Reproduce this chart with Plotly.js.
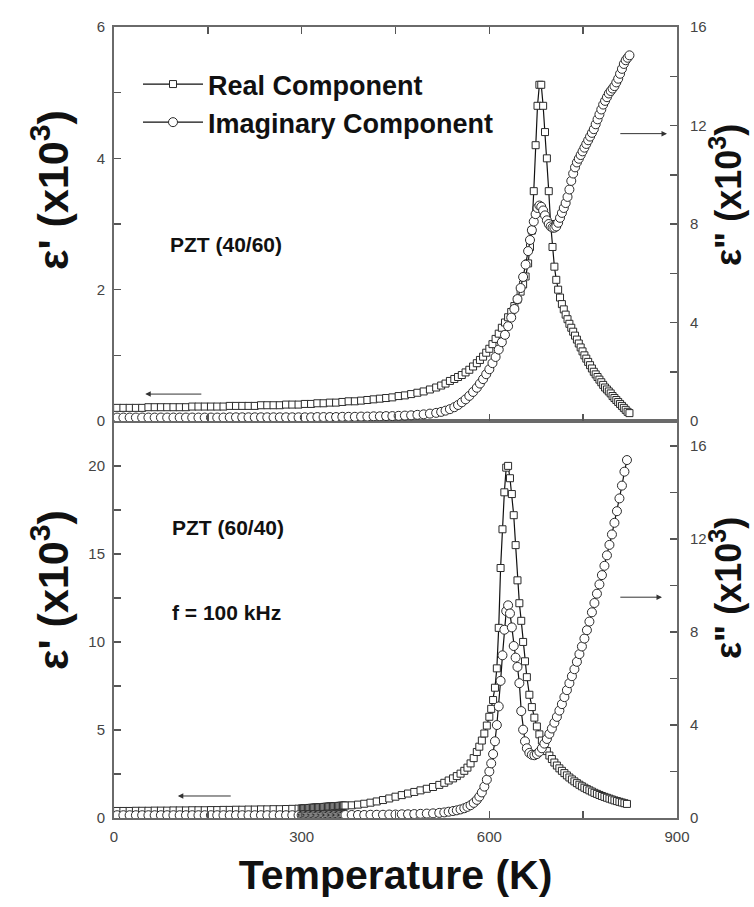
<!DOCTYPE html>
<html><head><meta charset="utf-8">
<script src="https://cdn.plot.ly/plotly-3.0.1.min.js"></script>
<style>html,body{margin:0;padding:0;background:#fff}#c{width:754px;height:907px}</style>
</head><body><div id="c"></div>
<script>
// ---------- DATA ----------
// Top panel: PZT (40/60)
const tempTop = [
 5,15,25,35,45,55,65,75,85,95,
 105,115,125,135,145,155,165,175,185,195,
 205,215,225,235,245,255,265,275,285,295,
 305,315,325,335,345,355,365,375,385,395,
 405,415,425,435,445,455,465,475,485,495,505,515,
 523,530,537,544,550,556,562,568,574,580,
 585,590,595,600,605,610,615,620,625,630,
 635,640,645,650,654,658,662,665,668,671,
 674,677,680,683,686,689,692,695,698,701,
 704,707,710,713,716,719,722,725,728,731,
 734,737,740,743,746,749,752,755,758,761,
 764,767,770,773,776,779,782,785,788,791,
 794,797,800,803,806,809,812,815,818,821,
 824];
const realTop = [
 0.20,0.20,0.20,0.20,0.20,0.21,0.21,0.21,0.21,0.21,
 0.21,0.21,0.22,0.22,0.22,0.22,0.22,0.22,0.23,0.23,
 0.23,0.23,0.23,0.24,0.24,0.24,0.24,0.25,0.25,0.25,
 0.26,0.26,0.27,0.27,0.28,0.28,0.29,0.30,0.30,0.31,
 0.32,0.33,0.34,0.35,0.36,0.38,0.39,0.41,0.43,0.45,0.48,0.51,
 0.54,0.57,0.61,0.64,0.67,0.70,0.74,0.78,0.83,0.88,
 0.93,0.98,1.04,1.10,1.17,1.25,1.33,1.42,1.50,1.58,
 1.66,1.75,1.85,1.97,2.08,2.20,2.40,2.65,2.90,3.50,
 4.20,4.80,5.12,5.12,4.80,4.40,4.00,3.50,3.00,2.65,
 2.35,2.15,2.00,1.88,1.78,1.70,1.62,1.55,1.48,1.42,
 1.36,1.30,1.24,1.18,1.12,1.06,1.00,0.95,0.90,0.85,
 0.80,0.75,0.71,0.67,0.63,0.59,0.55,0.51,0.48,0.45,
 0.42,0.38,0.35,0.32,0.29,0.26,0.23,0.20,0.17,0.14,
 0.12];
const imagTop = [
 0.14,0.14,0.14,0.14,0.14,0.14,0.14,0.14,0.14,0.14,
 0.14,0.14,0.14,0.14,0.14,0.14,0.14,0.14,0.15,0.15,
 0.15,0.15,0.15,0.15,0.15,0.15,0.15,0.15,0.15,0.15,
 0.15,0.15,0.16,0.16,0.16,0.16,0.17,0.17,0.17,0.18,
 0.18,0.19,0.19,0.20,0.20,0.21,0.22,0.23,0.25,0.27,0.30,0.33,
 0.37,0.42,0.48,0.56,0.65,0.76,0.88,1.02,1.18,1.35,
 1.52,1.70,1.90,2.10,2.35,2.60,2.90,3.20,3.50,3.85,
 4.20,4.55,4.95,5.40,5.85,6.35,6.90,7.35,7.75,8.10,
 8.40,8.65,8.75,8.70,8.55,8.35,8.15,8.00,7.90,7.85,
 7.85,7.90,8.05,8.25,8.45,8.65,8.85,9.10,9.40,9.75,
 10.05,10.30,10.50,10.65,10.80,10.95,11.10,11.25,11.40,11.55,
 11.70,11.85,12.05,12.25,12.45,12.65,12.85,13.00,13.15,13.30,
 13.40,13.50,13.60,13.75,13.90,14.10,14.30,14.50,14.65,14.75,
 14.85];

// Bottom panel: PZT (60/40)
const tempBot = [
 5,15,25,35,45,55,65,75,85,95,
 105,115,125,135,145,155,165,175,185,195,
 205,215,225,235,245,255,265,275,285,295,
 300,302,304,306,308,310,312,314,316,318,
 320,322,324,326,328,330,332,334,336,338,
 340,342,344,346,348,350,352,354,356,358,
 360,362,364,366,368,370,
 380,390,400,410,420,430,440,450,460,470,480,490,500,510,520,
 528,535,542,548,554,560,565,570,575,580,
 584,588,592,596,600,603,606,609,612,615,
 618,621,624,627,630,633,636,639,642,645,
 648,651,654,657,660,664,668,672,676,680,
 684,688,692,696,700,704,708,712,716,720,
 724,728,732,736,740,744,748,752,756,760,
 764,768,772,776,780,784,788,792,796,800,
 804,808,812,816,820];
const realBot = [
 0.40,0.40,0.40,0.41,0.41,0.41,0.42,0.42,0.42,0.43,
 0.43,0.43,0.44,0.44,0.44,0.45,0.45,0.46,0.46,0.47,
 0.47,0.48,0.48,0.49,0.49,0.50,0.50,0.51,0.52,0.53,
 0.54,0.54,0.55,0.55,0.56,0.56,0.57,0.57,0.58,0.58,
 0.59,0.59,0.60,0.60,0.61,0.61,0.62,0.62,0.63,0.63,
 0.64,0.64,0.65,0.65,0.66,0.66,0.67,0.67,0.68,0.68,
 0.69,0.69,0.70,0.70,0.71,0.71,
 0.72,0.76,0.81,0.87,0.94,1.02,1.11,1.21,1.30,1.39,1.48,1.57,1.66,1.76,1.88,
 2.00,2.13,2.25,2.38,2.52,2.68,2.86,3.10,3.40,3.75,
 4.05,4.40,4.80,5.25,5.75,6.20,6.70,7.40,8.50,10.80,
 14.20,16.40,18.50,19.90,20.00,19.30,18.40,17.20,15.50,13.50,
 12.20,11.20,10.00,8.90,8.00,7.00,6.30,5.70,5.20,4.75,
 4.40,4.10,3.80,3.55,3.35,3.15,2.98,2.82,2.68,2.55,
 2.42,2.30,2.19,2.08,1.98,1.89,1.80,1.72,1.64,1.57,
 1.50,1.43,1.37,1.31,1.25,1.20,1.15,1.10,1.05,1.00,
 0.96,0.92,0.88,0.84,0.80];
const imagBot = [
 0.12,0.12,0.12,0.12,0.12,0.12,0.12,0.12,0.12,0.12,
 0.12,0.12,0.12,0.12,0.12,0.12,0.12,0.12,0.12,0.12,
 0.12,0.12,0.12,0.12,0.12,0.12,0.12,0.12,0.12,0.12,
 0.12,0.12,0.12,0.12,0.12,0.12,0.12,0.12,0.12,0.12,
 0.12,0.12,0.12,0.12,0.12,0.12,0.12,0.12,0.12,0.12,
 0.13,0.13,0.13,0.13,0.13,0.13,0.13,0.13,0.13,0.13,
 0.13,0.13,0.13,0.13,0.13,0.13,
 0.13,0.13,0.13,0.14,0.14,0.14,0.15,0.15,0.16,0.16,0.17,0.18,0.19,0.20,0.22,
 0.24,0.27,0.30,0.33,0.37,0.42,0.48,0.55,0.65,0.78,
 0.92,1.10,1.35,1.65,2.00,2.35,2.75,3.30,4.00,4.80,
 5.90,7.00,8.10,8.90,9.15,8.80,8.20,7.40,6.90,6.50,
 5.80,4.60,3.80,3.30,3.00,2.80,2.72,2.70,2.75,2.85,
 3.00,3.20,3.40,3.62,3.85,4.10,4.35,4.62,4.90,5.20,
 5.50,5.80,6.10,6.40,6.72,7.05,7.38,7.72,8.08,8.45,
 8.85,9.25,9.65,10.05,10.45,10.85,11.30,11.75,12.20,12.70,
 13.20,13.75,14.30,14.90,15.40];

const seriesNames = ['Real Component', 'Imaginary Component'];
const xTickVals = [0, 300, 600, 900];
const xTickText = ['0', '300', '600', '900'];

// ---------- STYLE / LAYOUT ----------
const W = 754, H = 907;
const L = 114, R = 677, TOP = 27, MID = 421, BOT = 818;
const FONT = 'Liberation Sans, Arial, Helvetica, sans-serif';
const lineStyle = {color: '#111', width: 1.2};
const sqMarker = {symbol: 'square', size: 7, color: '#fff', line: {color: '#2a2a2a', width: 1}};
const ciMarker = {symbol: 'circle', size: 9, color: '#fff', line: {color: '#2a2a2a', width: 1}};

const traces = [
  {x: tempTop, y: imagTop, xaxis: 'x2', yaxis: 'y4', mode: 'lines+markers', name: '<b>' + seriesNames[1] + '</b>',
   line: lineStyle, marker: ciMarker, legendrank: 2, legendgroup: 'b'},
  {x: tempTop, y: realTop, xaxis: 'x2', yaxis: 'y3', mode: 'lines+markers', name: '<b>' + seriesNames[0] + '</b>',
   line: lineStyle, marker: sqMarker, legendrank: 1, legendgroup: 'a'},
  {x: tempBot, y: imagBot, xaxis: 'x', yaxis: 'y2', mode: 'lines+markers', showlegend: false,
   line: lineStyle, marker: ciMarker},
  {x: tempBot, y: realBot, xaxis: 'x', yaxis: 'y', mode: 'lines+markers', showlegend: false,
   line: lineStyle, marker: sqMarker}
];

const tickCommon = {
  ticks: 'inside', ticklen: 7, tickwidth: 1.5, tickcolor: '#555',
  showline: true, linecolor: '#6a6a6a', linewidth: 2, showgrid: false, zeroline: false,
  tickfont: {family: FONT, size: 15, color: '#444'}
};
const minorCommon = (d) => ({dtick: d, ticks: 'inside', ticklen: 7, tickwidth: 1.5, tickcolor: '#555', showgrid: false});

const xDom = [L / W, R / W];
const yDomTop = [1 - MID / H, 1 - TOP / H];
const yDomBot = [1 - BOT / H, 1 - MID / H];
const leftTitleFont = {family: FONT, size: 43, color: '#111'};
const rightTitleFont = {family: FONT, size: 36, color: '#111'};
const labelFont = {family: FONT, size: 21, color: '#111'};
const arrowStyle = {showarrow: true, arrowhead: 2, arrowsize: 1.1, arrowwidth: 1, arrowcolor: '#333', text: ''};

const layout = {
  width: W, height: H, margin: {l: 0, r: 0, t: 0, b: 0},
  paper_bgcolor: '#fff', plot_bgcolor: 'rgba(0,0,0,0)',
  font: {family: FONT, color: '#111'},
  showlegend: true,
  legend: {x: 138 / W, y: 1 - 60 / H, xanchor: 'left', yanchor: 'top', bgcolor: 'rgba(0,0,0,0)',
           font: {family: FONT, size: 27, color: '#111'}, tracegroupgap: 21, itemwidth: 60, traceorder: 'normal'},
  xaxis: Object.assign({}, tickCommon, {domain: xDom, anchor: 'y', range: [0, 900],
          tickvals: xTickVals, ticktext: xTickText, minor: minorCommon(150), mirror: true,
          ticklabelstandoff: 4,
          title: {text: '<b>Temperature (K)</b>', font: {family: FONT, size: 41, color: '#111'}, standoff: 16}}),
  xaxis2: Object.assign({}, tickCommon, {domain: xDom, anchor: 'y3', range: [0, 900], matches: 'x',
          tickvals: xTickVals, showticklabels: false, minor: minorCommon(150), mirror: 'ticks'}),
  yaxis: Object.assign({}, tickCommon, {domain: yDomBot, anchor: 'x', range: [0, 22.55], dtick: 5, tick0: 0,
          minor: minorCommon(2.5), ticklabelstandoff: 4}),
  yaxis2: Object.assign({}, tickCommon, {overlaying: 'y', side: 'right', anchor: 'x', range: [0, 17.08], dtick: 4, tick0: 0,
          minor: minorCommon(2), ticklabelstandoff: 8}),
  yaxis3: Object.assign({}, tickCommon, {domain: yDomTop, anchor: 'x2', range: [0, 6], dtick: 2, tick0: 0,
          minor: minorCommon(1), ticklabelstandoff: 4}),
  yaxis4: Object.assign({}, tickCommon, {overlaying: 'y3', side: 'right', anchor: 'x2', range: [0, 16], dtick: 4, tick0: 0,
          minor: minorCommon(2), ticklabelstandoff: 8}),
  annotations: [
    // y-axis titles
    {xref: 'paper', yref: 'paper', x: 50 / W, y: 1 - 190 / H, xanchor: 'center', yanchor: 'middle',
     text: "<b>ε' (x10<sup>3</sup>)</b>", textangle: -90, showarrow: false, font: leftTitleFont},
    {xref: 'paper', yref: 'paper', x: 50 / W, y: 1 - 590 / H, xanchor: 'center', yanchor: 'middle',
     text: "<b>ε' (x10<sup>3</sup>)</b>", textangle: -90, showarrow: false, font: leftTitleFont},
    {xref: 'paper', yref: 'paper', x: 726 / W, y: 1 - 195 / H, xanchor: 'center', yanchor: 'middle',
     text: '<b>ε" (x10<sup>3</sup>)</b>', textangle: -90, showarrow: false, font: rightTitleFont},
    {xref: 'paper', yref: 'paper', x: 726 / W, y: 1 - 588 / H, xanchor: 'center', yanchor: 'middle',
     text: '<b>ε" (x10<sup>3</sup>)</b>', textangle: -90, showarrow: false, font: rightTitleFont},
    // sample labels
    {xref: 'paper', yref: 'paper', x: 168 / W, y: 1 - 244 / H, xanchor: 'left', yanchor: 'middle',
     text: '<b>PZT (40/60)</b>', showarrow: false, font: labelFont},
    {xref: 'paper', yref: 'paper', x: 170 / W, y: 1 - 527 / H, xanchor: 'left', yanchor: 'middle',
     text: '<b>PZT (60/40)</b>', showarrow: false, font: labelFont},
    {xref: 'paper', yref: 'paper', x: 170 / W, y: 1 - 612 / H, xanchor: 'left', yanchor: 'middle',
     text: '<b>f = 100 kHz</b>', showarrow: false, font: labelFont},
    // axis-pointer arrows
    Object.assign({xref: 'x2', yref: 'y3', axref: 'x2', ayref: 'y3', x: 50, y: 0.41, ax: 142, ay: 0.41}, arrowStyle),
    Object.assign({xref: 'x2', yref: 'y4', axref: 'x2', ayref: 'y4', x: 884, y: 11.67, ax: 807, ay: 11.67}, arrowStyle),
    Object.assign({xref: 'x', yref: 'y', axref: 'x', ayref: 'y', x: 102, y: 1.25, ax: 189, ay: 1.25}, arrowStyle),
    Object.assign({xref: 'x', yref: 'y2', axref: 'x', ayref: 'y2', x: 876, y: 9.5, ax: 807, ay: 9.5}, arrowStyle)
  ]
};

Plotly.newPlot('c', traces, layout, {staticPlot: true, displayModeBar: false});
</script></body></html>
